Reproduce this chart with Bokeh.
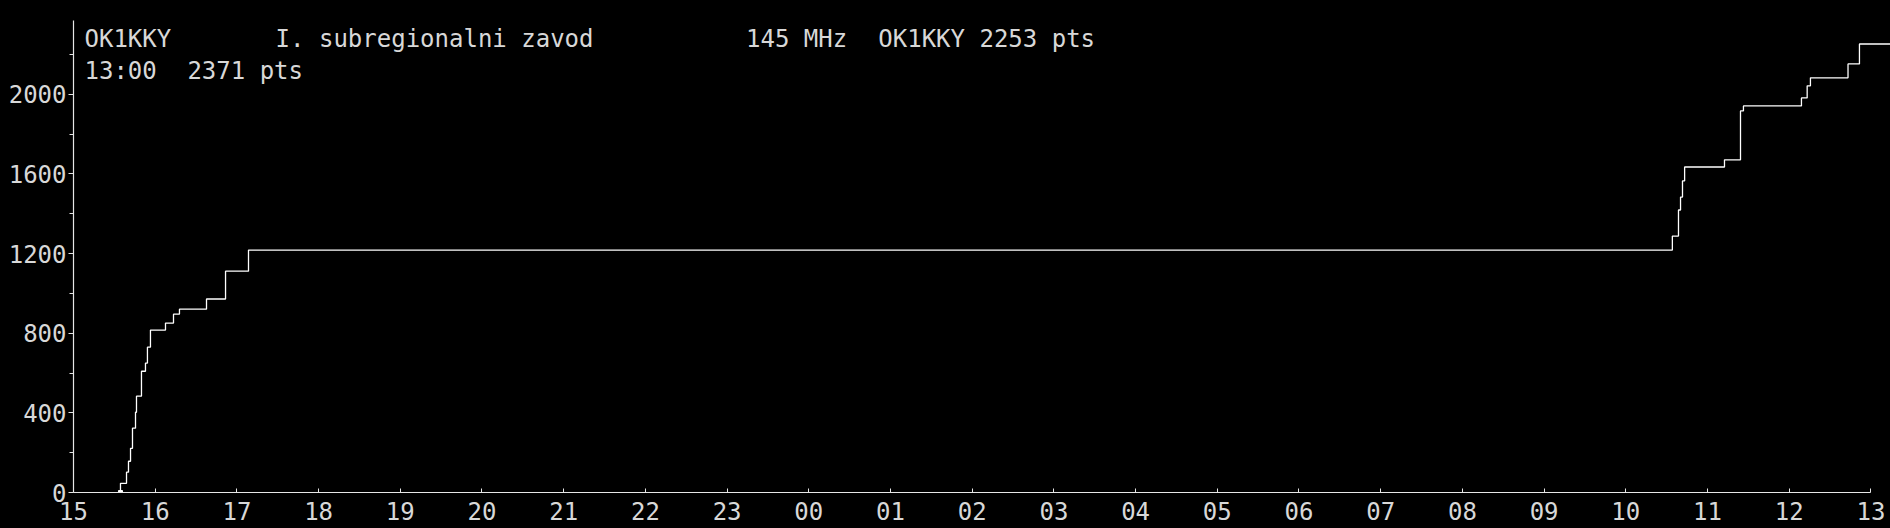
from bokeh.plotting import figure
from bokeh.models import Range1d, FixedTicker, Label
from bokeh.embed import file_html
from bokeh.resources import INLINE

# QSO log: time (hours since 00:00 of day 1; day 2 = +24) and cumulative score
hours = [15.575, 15.575, 15.649, 15.673, 15.698, 15.722, 15.759, 15.771, 15.832,
         15.881, 15.905, 15.942, 16.126, 16.224, 16.297, 16.628, 16.861, 17.142,
         34.570, 34.645, 34.670, 34.694, 34.720, 35.208, 35.404, 35.440, 36.150,
         36.220, 36.260, 36.720, 36.860, 37.300]
points = [0, 46, 102, 157, 222, 323, 403, 484, 609,
          650, 730, 816, 851, 896, 921, 972, 1112, 1218,
          1288, 1419, 1484, 1565, 1635, 1671, 1917, 1942, 1982,
          2043, 2083, 2153, 2253, 2253]

x_ticks = [15, 16, 17, 18, 19, 20, 21, 22, 23, 24, 25, 26, 27, 28, 29, 30,
           31, 32, 33, 34, 35, 36, 37]
x_tick_labels = ["15", "16", "17", "18", "19", "20", "21", "22", "23", "00", "01",
                 "02", "03", "04", "05", "06", "07", "08", "09", "10", "11", "12", "13"]
y_ticks = [0, 400, 800, 1200, 1600, 2000]
y_minor = [200, 600, 1000, 1400, 1800, 2200]
y_max = 2371

title_line1 = [(0, "OK1KKY"), (13, "I. subregionalni zavod"), (45, "145 MHz"),
               (54, "OK1KKY 2253 pts")]
title_line2 = [(0, "13:00"), (7, "2371 pts")]

FONT = "DejaVu Sans Mono"
TXT = "#d8d8d8"
AX = "#e6e6e6"

p = figure(width=1890, height=528, output_backend="svg", toolbar_location=None,
           x_range=Range1d(15, 37.24), y_range=Range1d(0, y_max),
           background_fill_color="black", border_fill_color="black",
           min_border_left=73, min_border_right=0, min_border_top=20,
           min_border_bottom=36)
p.outline_line_color = None
p.grid.visible = False

p.step(hours, points, mode="after", line_color="white", line_width=1.3)
p.scatter([hours[0]], [points[0]], marker="square", size=4, color="white")

xa = p.xaxis[0]
xa.ticker = FixedTicker(ticks=x_ticks)
xa.major_label_overrides = {t: l for t, l in zip(x_ticks, x_tick_labels)}
xa.bounds = (15, 37)
xa.major_tick_in = 4
xa.major_tick_out = 0
xa.minor_tick_line_color = None
xa.major_label_standoff = 9

ya = p.yaxis[0]
ya.ticker = FixedTicker(ticks=y_ticks, minor_ticks=y_minor)
ya.major_tick_in = 0
ya.major_tick_out = 5
ya.minor_tick_in = 0
ya.minor_tick_out = 4
ya.major_label_standoff = 2

for ax in (xa, ya):
    ax.axis_line_color = AX
    ax.major_tick_line_color = AX
    ax.axis_line_width = 1.2
    ax.major_label_text_font = FONT
    ax.major_label_text_font_size = "24px"
    ax.major_label_text_color = TXT
ya.minor_tick_line_color = AX

for col, txt in title_line1:
    p.add_layout(Label(x=11 + col * 14.7, y=453.8, x_units="screen", y_units="screen",
                       text=txt, text_font=FONT, text_font_size="24px",
                       text_color=TXT, text_baseline="alphabetic"))
for col, txt in title_line2:
    p.add_layout(Label(x=11 + col * 14.7, y=421.5, x_units="screen", y_units="screen",
                       text=txt, text_font=FONT, text_font_size="24px",
                       text_color=TXT, text_baseline="alphabetic"))

html = file_html(p, INLINE)
html = html.replace("<head>", "<head><style>html,body{background:#000;overflow:hidden}</style>", 1)
open("out.html", "w").write(html)
